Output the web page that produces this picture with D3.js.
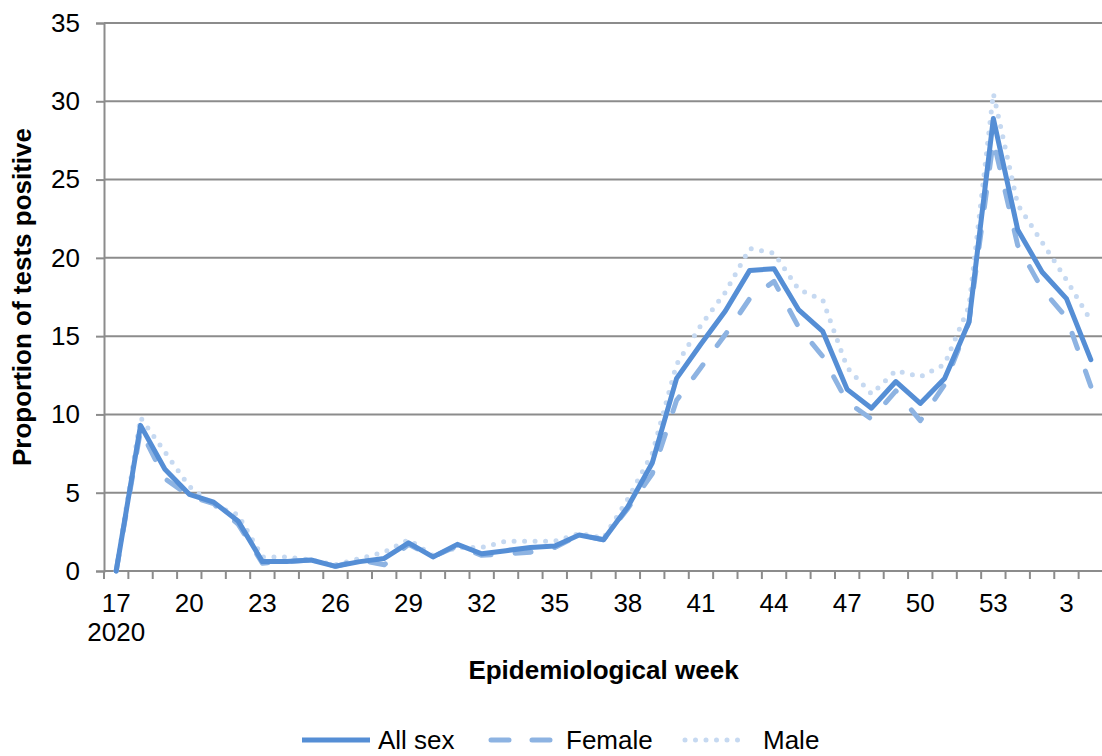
<!DOCTYPE html>
<html lang="en">
  <head>
    <meta charset="UTF-8" />
    <title>Proportion of tests positive by sex</title>
    <style>
      body { margin: 0; background: #fff; }
      text { font-family: "Liberation Sans", Arial, sans-serif; fill: #000; }
    </style>
  </head>
  <body>
    <script src="https://cdn.jsdelivr.net/npm/d3@7/dist/d3.min.js"></script>
    <script>
    // epidemiological weeks: 17..53 of 2020, then 1..4 of 2021
    var weeks = ["17","18","19","20","21","22","23","24","25","26","27","28","29","30",
                 "31","32","33","34","35","36","37","38","39","40","41","42","43","44",
                 "45","46","47","48","49","50","51","52","53","1","2","3","4"];
    var tickWeeks = ["17","20","23","26","29","32","35","38","41","44","47","50","53","3"];
    var yTicks = [0, 5, 10, 15, 20, 25, 30, 35];

    var allSex = [0, 9.3, 6.5, 4.9, 4.4, 3.2, 0.6, 0.6, 0.7, 0.3, 0.6, 0.8, 1.8, 0.9,
                  1.7, 1.1, 1.3, 1.5, 1.6, 2.3, 2.0, 4.1, 6.9, 12.3, 14.5, 16.6, 19.2, 19.3,
                  16.7, 15.3, 11.6, 10.4, 12.1, 10.7, 12.3, 15.9, 28.9, 21.8, 19.1, 17.4, 13.5];
    var female = [0, 9.0, 5.9, 4.8, 4.3, 3.0, 0.5, 0.6, 0.7, 0.3, 0.7, 0.4, 1.7, 0.9,
                  1.6, 1.0, 1.1, 1.2, 1.5, 2.3, 2.0, 4.0, 6.2, 10.9, 13.0, 15.1, 17.4, 18.5,
                  15.6, 13.7, 10.8, 9.7, 11.5, 9.6, 11.9, 15.9, 27.5, 20.8, 18.0, 16.2, 11.8];
    var male = [0, 9.8, 7.6, 5.4, 4.2, 3.6, 0.9, 0.9, 0.7, 0.4, 0.8, 1.2, 2.0, 1.0,
                1.5, 1.5, 1.9, 1.9, 1.9, 2.4, 2.1, 4.6, 7.5, 13.2, 15.7, 17.8, 20.6, 20.3,
                18.0, 17.3, 13.0, 11.3, 12.8, 12.4, 13.2, 16.9, 30.5, 23.4, 21.0, 18.6, 16.0];

    var series = [
      {name: "All sex", values: allSex, color: "#558ed5", dash: null},
      {name: "Female",  values: female, color: "#8db3e2", dash: "16,24"},
      {name: "Male",    values: male,   color: "#c6d9f1", dash: "0,10.5"}
    ];

    var width = 1102, height = 756;
    var margin = {top: 23, right: -1, bottom: 185, left: 104};
    var plotW = width - margin.left - margin.right;
    var plotH = height - margin.top - margin.bottom;
    var fontSize = "26px";

    var svg = d3.select("body").append("svg")
      .attr("width", width)
      .attr("height", height);

    var g = svg.append("g")
      .attr("transform", "translate(" + margin.left + "," + margin.top + ")");

    var x = d3.scaleBand().domain(weeks).range([0, plotW]);
    var y = d3.scaleLinear().domain([0, 35]).range([plotH, 0]);

    // gridlines
    g.selectAll(".grid")
      .data(yTicks.filter(function(d){ return d > 0; }))
      .enter()
      .append("line")
      .attr("x1", 0)
      .attr("x2", plotW)
      .attr("y1", function(d){ return y(d); })
      .attr("y2", function(d){ return y(d); })
      .attr("stroke", "#8c8c8c")
      .attr("stroke-width", 2);

    // y axis
    var yAxis = g.append("g")
      .call(d3.axisLeft(y).tickValues(yTicks).tickSize(8).tickPadding(16));
    yAxis.select(".domain").attr("stroke", "#8c8c8c").attr("stroke-width", 2);
    yAxis.selectAll(".tick line").attr("stroke", "#8c8c8c").attr("stroke-width", 2);
    yAxis.selectAll("text")
      .attr("font-size", fontSize)
      .attr("font-family", "Liberation Sans, Arial, sans-serif")
      .attr("fill", "#000");

    // x axis, ticks sit between categories
    var xAxis = g.append("g").attr("transform", "translate(0," + plotH + ")");
    xAxis.append("line")
      .attr("x1", 0).attr("x2", plotW)
      .attr("stroke", "#8c8c8c").attr("stroke-width", 2);
    xAxis.selectAll(".xtick")
      .data(weeks)
      .enter()
      .append("line")
      .attr("x1", function(d){ return x(d); })
      .attr("x2", function(d){ return x(d); })
      .attr("y1", 0)
      .attr("y2", 8)
      .attr("stroke", "#8c8c8c")
      .attr("stroke-width", 2);
    xAxis.selectAll(".xlab")
      .data(tickWeeks)
      .enter()
      .append("text")
      .attr("x", function(d){ return x(d) + x.bandwidth() / 2; })
      .attr("y", 41)
      .attr("text-anchor", "middle")
      .attr("font-size", fontSize)
      .text(function(d){ return d; });
    xAxis.append("text")
      .attr("x", x("17") + x.bandwidth() / 2)
      .attr("y", 70)
      .attr("text-anchor", "middle")
      .attr("font-size", fontSize)
      .text("2020");

    // axis titles
    svg.append("text")
      .attr("transform", "translate(31," + (margin.top + plotH / 2) + ") rotate(-90)")
      .attr("text-anchor", "middle")
      .attr("font-size", fontSize)
      .attr("font-weight", "bold")
      .text("Proportion of tests positive");
    svg.append("text")
      .attr("x", margin.left + plotW / 2)
      .attr("y", 679)
      .attr("text-anchor", "middle")
      .attr("font-size", fontSize)
      .attr("font-weight", "bold")
      .text("Epidemiological week");

    // lines (draw male first so all sex is on top)
    var line = d3.line()
      .x(function(d, i){ return x(weeks[i]) + x.bandwidth() / 2; })
      .y(function(d){ return y(d); });

    series.slice().reverse().forEach(function(s) {
      g.append("path")
        .datum(s.values)
        .attr("d", line)
        .attr("fill", "none")
        .attr("stroke", s.color)
        .attr("stroke-width", 5)
        .attr("stroke-linecap", "round")
        .attr("stroke-linejoin", "round")
        .attr("stroke-dasharray", s.dash);
    });

    // legend
    var legendX = [302, 491, 685];
    var legend = svg.append("g").attr("transform", "translate(0,740)");
    var items = legend.selectAll("g")
      .data(series)
      .enter()
      .append("g")
      .attr("transform", function(d, i){ return "translate(" + legendX[i] + ",0)"; });
    items.append("line")
      .attr("x1", 0)
      .attr("x2", function(d, i){ return [68, 62, 57][i]; })
      .attr("stroke", function(d){ return d.color; })
      .attr("stroke-width", 5)
      .attr("stroke-linecap", function(d, i){ return i === 0 ? "butt" : "round"; })
      .attr("stroke-dasharray", function(d, i){ return i === 1 ? "18,23" : d.dash; });
    items.append("text")
      .attr("x", function(d, i){ return [76, 75, 78][i]; })
      .attr("y", 9)
      .attr("font-size", fontSize)
      .text(function(d){ return d.name; });
    </script>
  </body>
</html>
